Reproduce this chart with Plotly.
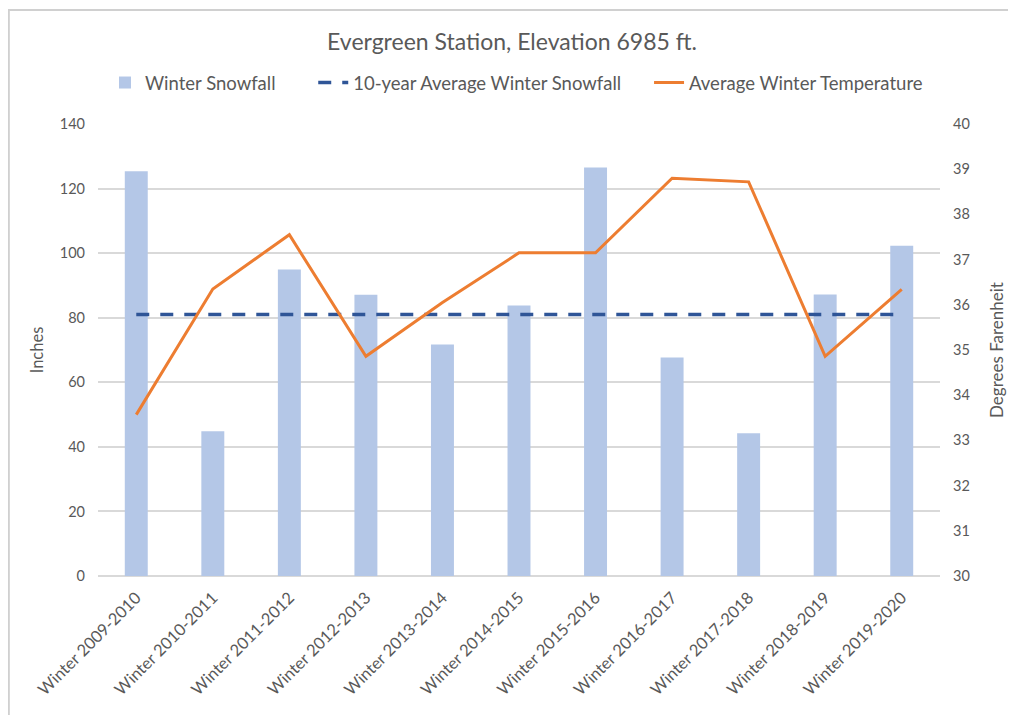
import plotly.graph_objects as go

# ─── Data ─────────────────────────────────────────────────────────────────────
winters = [
    "Winter 2009-2010", "Winter 2010-2011", "Winter 2011-2012", "Winter 2012-2013",
    "Winter 2013-2014", "Winter 2014-2015", "Winter 2015-2016", "Winter 2016-2017",
    "Winter 2017-2018", "Winter 2018-2019", "Winter 2019-2020",
]
snowfall_in = [125.4, 44.8, 94.9, 87.1, 71.7, 83.8, 126.5, 67.7, 44.2, 87.2, 102.3]
avg_snowfall_in = [81.0] * len(winters)
avg_temp_f = [33.57, 36.35, 37.55, 34.86, 36.05, 37.15, 37.15, 38.8, 38.72, 34.86, 36.34]

TEXT = "#595959"
GRID = "#D9D9D9"
FONT = "Lato, 'Open Sans', sans-serif"

# page body has an 8px margin, so the figure is drawn 8px in from the corner
W, H = 1008, 707
L, R, T, B = 90, 935, 116, 568   # plot area edges in figure pixels


def px_x(x):
    return (x - L) / (R - L)


def px_y(y):
    return (B - y) / (B - T)


fig = go.Figure()
fig.add_trace(go.Bar(
    x=winters, y=snowfall_in, name="Winter Snowfall", legend="legend",
    marker=dict(color="#B4C7E7", line=dict(width=0)),
))
fig.add_trace(go.Scatter(
    x=winters, y=avg_snowfall_in, mode="lines", legend="legend2",
    name="10-year Average Winter Snowfall",
    line=dict(color="#2F5597", width=3.5, dash="13px,11px"),
))
fig.add_trace(go.Scatter(
    x=winters, y=avg_temp_f, mode="lines", yaxis="y2", legend="legend3",
    name="Average Winter Temperature",
    line=dict(color="#ED7D31", width=3),
))

leg = dict(y=px_y(75), yanchor="middle", xanchor="left", bgcolor="rgba(0,0,0,0)",
           font=dict(size=18.5, color=TEXT), itemwidth=30)

fig.update_layout(
    width=W, height=H,
    paper_bgcolor="white", plot_bgcolor="white",
    font=dict(family=FONT, color=TEXT, size=15),
    title=dict(text="Evergreen Station, Elevation 6985 ft.", x=0.5, xanchor="center",
               y=1 - 34 / H, yanchor="middle", font=dict(size=23, color=TEXT)),
    margin=dict(l=L, r=W - R, t=T, b=H - B),
    bargap=0.7,
    showlegend=True,
    legend=dict(leg, x=px_x(97)),
    legend2=dict(leg, x=px_x(306)),
    legend3=dict(leg, x=px_x(643)),
    xaxis=dict(tickangle=-45, tickfont=dict(size=16.5, color=TEXT),
               showgrid=False, showline=False, ticks="", ticklabelstandoff=8),
    yaxis=dict(range=[0, 140], dtick=20, gridcolor=GRID, gridwidth=1.5,
               zeroline=True, zerolinecolor=GRID, zerolinewidth=1.5,
               tickfont=dict(size=14.5, color=TEXT), ticks="", ticklabelstandoff=12,
               title=dict(text="Inches", font=dict(size=16.5, color=TEXT), standoff=11)),
    yaxis2=dict(range=[30, 40], dtick=1, overlaying="y", side="right", showgrid=False,
                zeroline=False, tickfont=dict(size=14.5, color=TEXT), ticklabelstandoff=12,
                title=dict(text="Degrees Farenheit", font=dict(size=17, color=TEXT),
                           standoff=22)),
    shapes=[dict(
        type="rect", xref="paper", yref="paper", layer="below",
        x0=px_x(0.5), x1=px_x(1030), y0=px_y(730), y1=px_y(2),
        line=dict(color="#D0D0D0", width=2), fillcolor="rgba(0,0,0,0)",
    )],
)

fig.write_html("out.html")
